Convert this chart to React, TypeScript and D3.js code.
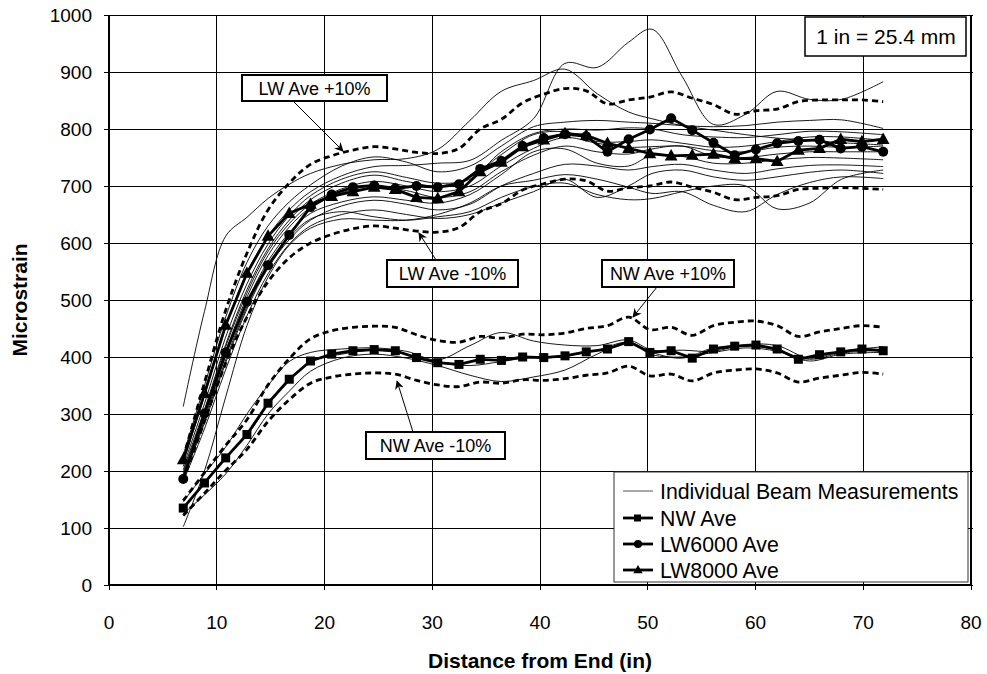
import React from "react";
import * as d3 from "d3";

// Measurement stations (in) — every 50 mm from 175 mm
const stationIn = [6.89, 8.86, 10.83, 12.8, 14.76, 16.73, 18.7, 20.67, 22.64, 24.61, 26.57, 28.54, 30.51, 32.48, 34.45, 36.42, 38.39, 40.35, 42.32, 44.29, 46.26, 48.23, 50.2, 52.17, 54.13, 56.1, 58.07, 60.04, 62.01, 63.98, 65.94, 67.91, 69.88, 71.85];

const nwAve = [135, 179, 223, 264, 319, 361, 393, 405, 411, 413, 411, 399, 390, 387, 396, 394, 400, 399, 402, 409, 414, 427, 408, 411, 398, 414, 419, 421, 414, 396, 404, 409, 414, 411];
const lw6000Ave = [186, 301, 408, 497, 561, 614, 663, 685, 698, 701, 696, 700, 698, 703, 730, 744, 770, 784, 791, 787, 760, 782, 799, 819, 798, 776, 754, 764, 775, 779, 781, 766, 769, 760];
const lw8000Ave = [220, 336, 456, 547, 612, 652, 668, 682, 690, 698, 694, 680, 678, 690, 725, 742, 769, 781, 792, 789, 775, 766, 757, 753, 754, 756, 748, 748, 743, 763, 766, 782, 778, 782];

const nwPlus10 = [148, 197, 245, 290, 351, 397, 432, 446, 452, 454, 452, 439, 429, 426, 436, 433, 440, 439, 442, 450, 455, 470, 448, 452, 438, 455, 461, 463, 455, 436, 444, 450, 455, 452];
const nwMinus10 = [122, 161, 201, 238, 287, 325, 354, 365, 370, 372, 370, 359, 351, 348, 356, 354, 360, 359, 362, 368, 372, 384, 367, 370, 358, 372, 377, 379, 372, 356, 363, 368, 373, 370];
const lwPlus10 = [223, 355, 482, 582, 658, 705, 738, 753, 763, 769, 765, 759, 757, 766, 800, 817, 846, 861, 871, 867, 844, 851, 856, 865, 854, 843, 826, 832, 835, 848, 851, 851, 851, 848];
const lwMinus10 = [183, 287, 389, 470, 532, 574, 600, 615, 625, 630, 626, 621, 619, 627, 655, 669, 693, 704, 712, 709, 691, 697, 700, 707, 698, 689, 676, 680, 683, 694, 696, 697, 696, 694];

// Individual beam traces (sampled positions, in)
const beamIn = [6.89, 8.86, 10.83, 12.8, 14.76, 16.73, 18.7, 21.6, 24.6, 27.6, 30.5, 33.5, 36.4, 39.4, 42.3, 45.3, 48.2, 50.4, 53.2, 56.1, 59.1, 62.0, 65.0, 68.0, 71.85];

const lwBeam1 = [313, 480, 612, 645, 678, 703, 722, 738, 746, 748, 764, 815, 866, 885, 905, 862, 830, 818, 806, 798, 790, 784, 780, 776, 772];
const lwBeam2 = [215, 332, 452, 548, 612, 658, 690, 718, 734, 736, 740, 745, 780, 818, 915, 908, 952, 975, 892, 808, 826, 866, 852, 852, 883];
const lwBeam3 = [228, 350, 470, 566, 630, 672, 702, 735, 751, 742, 725, 735, 770, 804, 812, 815, 812, 810, 806, 804, 806, 812, 815, 816, 801];
const lwBeam4 = [208, 318, 435, 528, 598, 648, 683, 712, 725, 715, 705, 712, 760, 792, 800, 798, 802, 800, 790, 786, 785, 790, 796, 795, 790];
const lwBeam5 = [202, 308, 422, 518, 590, 640, 676, 705, 719, 708, 700, 715, 755, 790, 795, 778, 778, 781, 775, 768, 770, 778, 786, 786, 780];
const lwBeam6 = [198, 304, 418, 512, 585, 634, 668, 695, 708, 700, 690, 700, 735, 766, 785, 775, 768, 769, 770, 762, 760, 768, 770, 768, 770];
const lwBeam7 = [195, 298, 410, 505, 578, 628, 662, 688, 700, 692, 680, 690, 725, 754, 770, 760, 756, 765, 770, 752, 750, 756, 760, 760, 760];
const lwBeam8 = [192, 292, 402, 496, 568, 618, 652, 672, 681, 675, 670, 685, 720, 760, 765, 740, 735, 754, 752, 740, 740, 746, 750, 749, 746];
const lwBeam9 = [188, 284, 390, 484, 556, 606, 640, 665, 675, 668, 658, 668, 700, 722, 738, 735, 728, 734, 738, 728, 722, 730, 736, 737, 734];
const lwBeam10 = [182, 274, 378, 472, 546, 598, 630, 650, 658, 650, 643, 650, 670, 690, 712, 680, 700, 722, 728, 716, 710, 716, 724, 728, 722];
const lwBeam11 = [102, 200, 330, 455, 540, 596, 626, 642, 640, 640, 650, 670, 700, 710, 720, 712, 698, 687, 690, 666, 655, 685, 706, 716, 713];
const lwBeam12 = [190, 288, 395, 488, 560, 610, 642, 655, 646, 640, 646, 655, 680, 699, 705, 685, 676, 678, 690, 700, 700, 660, 670, 712, 728];

const nwBeam1 = [146, 195, 242, 300, 350, 392, 408, 414, 416, 410, 395, 420, 443, 428, 421, 420, 430, 412, 412, 410, 422, 420, 398, 410, 418];
const nwBeam2 = [125, 158, 195, 245, 300, 340, 375, 398, 405, 398, 385, 368, 357, 365, 377, 405, 425, 404, 400, 408, 416, 410, 393, 405, 408];
const nwBeam3 = [135, 180, 225, 262, 316, 358, 392, 405, 412, 405, 390, 385, 392, 400, 402, 412, 426, 408, 398, 416, 420, 412, 396, 407, 412];

const lwBeams = [lwBeam1, lwBeam2, lwBeam3, lwBeam4, lwBeam5, lwBeam6, lwBeam7, lwBeam8, lwBeam9, lwBeam10, lwBeam11, lwBeam12];
const nwBeams = [nwBeam1, nwBeam2, nwBeam3];

const xTickLabels = [0, 10, 20, 30, 40, 50, 60, 70, 80];
const yTickLabels = [0, 100, 200, 300, 400, 500, 600, 700, 800, 900, 1000];

const legendLabels = ["Individual Beam Measurements", "NW Ave", "LW6000 Ave", "LW8000 Ave"];

const FONT = "'Liberation Sans', Arial, Helvetica, sans-serif";

export default function App() {
  const W = 987;
  const H = 674;
  const L = 109, R = 971, T = 15, B = 585;
  const x = d3.scaleLinear().domain([0, 80]).range([L, R]);
  const y = d3.scaleLinear().domain([0, 1000]).range([B, T]);

  const smooth = d3
    .line<[number, number]>()
    .x((d) => x(d[0]))
    .y((d) => y(d[1]))
    .curve(d3.curveCatmullRom.alpha(0.5));
  const straight = d3
    .line<[number, number]>()
    .x((d) => x(d[0]))
    .y((d) => y(d[1]));

  const pairs = (xs: number[], ys: number[]) => xs.map((v, i) => [v, ys[i]] as [number, number]);

  const tri = (cx: number, cy: number, s: number) =>
    `M${cx},${cy - s * 0.62} L${cx + s * 0.58},${cy + s * 0.42} L${cx - s * 0.58},${cy + s * 0.42} Z`;

  const annotations = [
    { label: "LW Ave +10%", box: [242, 75, 387, 101], from: [293, 101], to: [343, 151] },
    { label: "LW Ave -10%", box: [387, 260, 518, 287], from: [436, 260], to: [419, 233] },
    { label: "NW Ave +10%", box: [602, 260, 734, 287], from: [657, 287], to: [633, 317] },
    { label: "NW Ave -10%", box: [366, 432, 505, 459], from: [413, 432], to: [397, 381] },
  ];

  const legendRows = [491, 518, 544, 570];

  return (
    <svg
      width={W}
      height={H}
      viewBox={`0 0 ${W} ${H}`}
      style={{ position: "absolute", left: 0, top: 0, background: "#fff" }}
      fontFamily={FONT}
    >
      <defs>
        <marker id="arr" viewBox="0 0 10 10" refX="9" refY="5" markerWidth="9" markerHeight="9" orient="auto" markerUnits="userSpaceOnUse">
          <path d="M0,0 L10,5 L0,10 L3,5 Z" fill="#000" />
        </marker>
      </defs>
      <rect x={0} y={0} width={W} height={H} fill="#fff" />

      {/* gridlines */}
      <g shapeRendering="crispEdges">
        {yTickLabels.map((v) => (
          <line key={"gy" + v} x1={L} x2={R + 2} y1={y(v)} y2={y(v)} stroke="#000" strokeWidth={1} />
        ))}
        {xTickLabels.map((v) => (
          <line key={"gx" + v} x1={x(v)} x2={x(v)} y1={T} y2={B} stroke="#000" strokeWidth={1} />
        ))}
        {yTickLabels.map((v) => (
          <line key={"ty" + v} x1={L - 5} x2={L} y1={y(v)} y2={y(v)} stroke="#000" strokeWidth={1} />
        ))}
        {xTickLabels.map((v) => (
          <line key={"tx" + v} x1={x(v)} x2={x(v)} y1={B} y2={B + 5} stroke="#000" strokeWidth={1} />
        ))}
        <line x1={L} x2={L} y1={T} y2={B} stroke="#000" strokeWidth={2} />
        <line x1={L} x2={R} y1={B} y2={B} stroke="#000" strokeWidth={2} />
        <line x1={R} x2={R} y1={T} y2={B} stroke="#000" strokeWidth={2} />
      </g>

      {/* individual beams */}
      <g fill="none" stroke="#000" strokeWidth={0.9}>
        {lwBeams.map((b, i) => (
          <path key={"lw" + i} d={smooth(pairs(beamIn, b)) || ""} />
        ))}
        {nwBeams.map((b, i) => (
          <path key={"nw" + i} d={smooth(pairs(beamIn, b)) || ""} />
        ))}
      </g>

      {/* +/-10% bounds */}
      <g fill="none" stroke="#000" strokeWidth={2.8} strokeDasharray="6,4">
        {[nwPlus10, nwMinus10, lwPlus10, lwMinus10].map((s, i) => (
          <path key={"b" + i} d={smooth(pairs(stationIn, s)) || ""} />
        ))}
      </g>

      {/* averages */}
      <g fill="none" stroke="#000" strokeWidth={2.8} strokeLinejoin="round">
        <path d={straight(pairs(stationIn, nwAve)) || ""} />
        <path d={straight(pairs(stationIn, lw6000Ave)) || ""} />
        <path d={straight(pairs(stationIn, lw8000Ave)) || ""} />
      </g>
      <g fill="#000">
        {stationIn.map((sx, i) => (
          <rect key={"sq" + i} x={x(sx) - 4.5} y={y(nwAve[i]) - 4.5} width={9} height={9} />
        ))}
        {stationIn.map((sx, i) => (
          <circle key={"ci" + i} cx={x(sx)} cy={y(lw6000Ave[i])} r={5} />
        ))}
        {stationIn.map((sx, i) => (
          <path key={"tr" + i} d={tri(x(sx), y(lw8000Ave[i]), 11)} />
        ))}
      </g>

      {/* annotations */}
      {annotations.map((a) => (
        <g key={a.label}>
          <line x1={a.from[0]} y1={a.from[1]} x2={a.to[0]} y2={a.to[1]} stroke="#000" strokeWidth={1} markerEnd="url(#arr)" />
          <rect
            x={a.box[0]}
            y={a.box[1]}
            width={a.box[2] - a.box[0]}
            height={a.box[3] - a.box[1]}
            fill="#fff"
            stroke="#000"
            strokeWidth={2}
          />
          <text
            x={(a.box[0] + a.box[2]) / 2}
            y={(a.box[1] + a.box[3]) / 2 + 6.5}
            textAnchor="middle"
            fontSize={18}
            fill="#000"
          >
            {a.label}
          </text>
        </g>
      ))}

      {/* unit box */}
      <rect x={805} y={17} width={161} height={39} fill="#fff" stroke="#000" strokeWidth={1.5} />
      <text x={886} y={44} textAnchor="middle" fontSize={21} fill="#000">
        1 in = 25.4 mm
      </text>

      {/* legend */}
      <rect x={614} y={472} width={354} height={110} fill="#fff" stroke="#333" strokeWidth={1} />
      {legendLabels.map((lab, i) => {
        const cy = legendRows[i];
        return (
          <g key={lab}>
            <line x1={623} x2={653} y1={cy} y2={cy} stroke={i === 0 ? "#555" : "#000"} strokeWidth={i === 0 ? 1 : 2.8} />
            {i === 1 && <rect x={634} y={cy - 3.5} width={7} height={7} fill="#000" />}
            {i === 2 && <circle cx={638} cy={cy} r={4} fill="#000" />}
            {i === 3 && <path d={tri(638, cy, 8)} fill="#000" />}
            <text x={660} y={cy + 7.5} fontSize={21.3} fill="#000">
              {lab}
            </text>
          </g>
        );
      })}

      {/* axis tick labels */}
      {yTickLabels.map((v) => (
        <text key={"yl" + v} x={92} y={y(v) + 6.5} textAnchor="end" fontSize={19} fill="#000">
          {v}
        </text>
      ))}
      {xTickLabels.map((v) => (
        <text key={"xl" + v} x={x(v)} y={629} textAnchor="middle" fontSize={19} fill="#000">
          {v}
        </text>
      ))}

      {/* axis titles */}
      <text x={540} y={668} textAnchor="middle" fontSize={21} fontWeight="bold" fill="#000">
        Distance from End (in)
      </text>
      <text
        transform={`translate(27,${(T + B) / 2}) rotate(-90)`}
        textAnchor="middle"
        fontSize={21}
        fontWeight="bold"
        fill="#000"
      >
        Microstrain
      </text>
    </svg>
  );
}
